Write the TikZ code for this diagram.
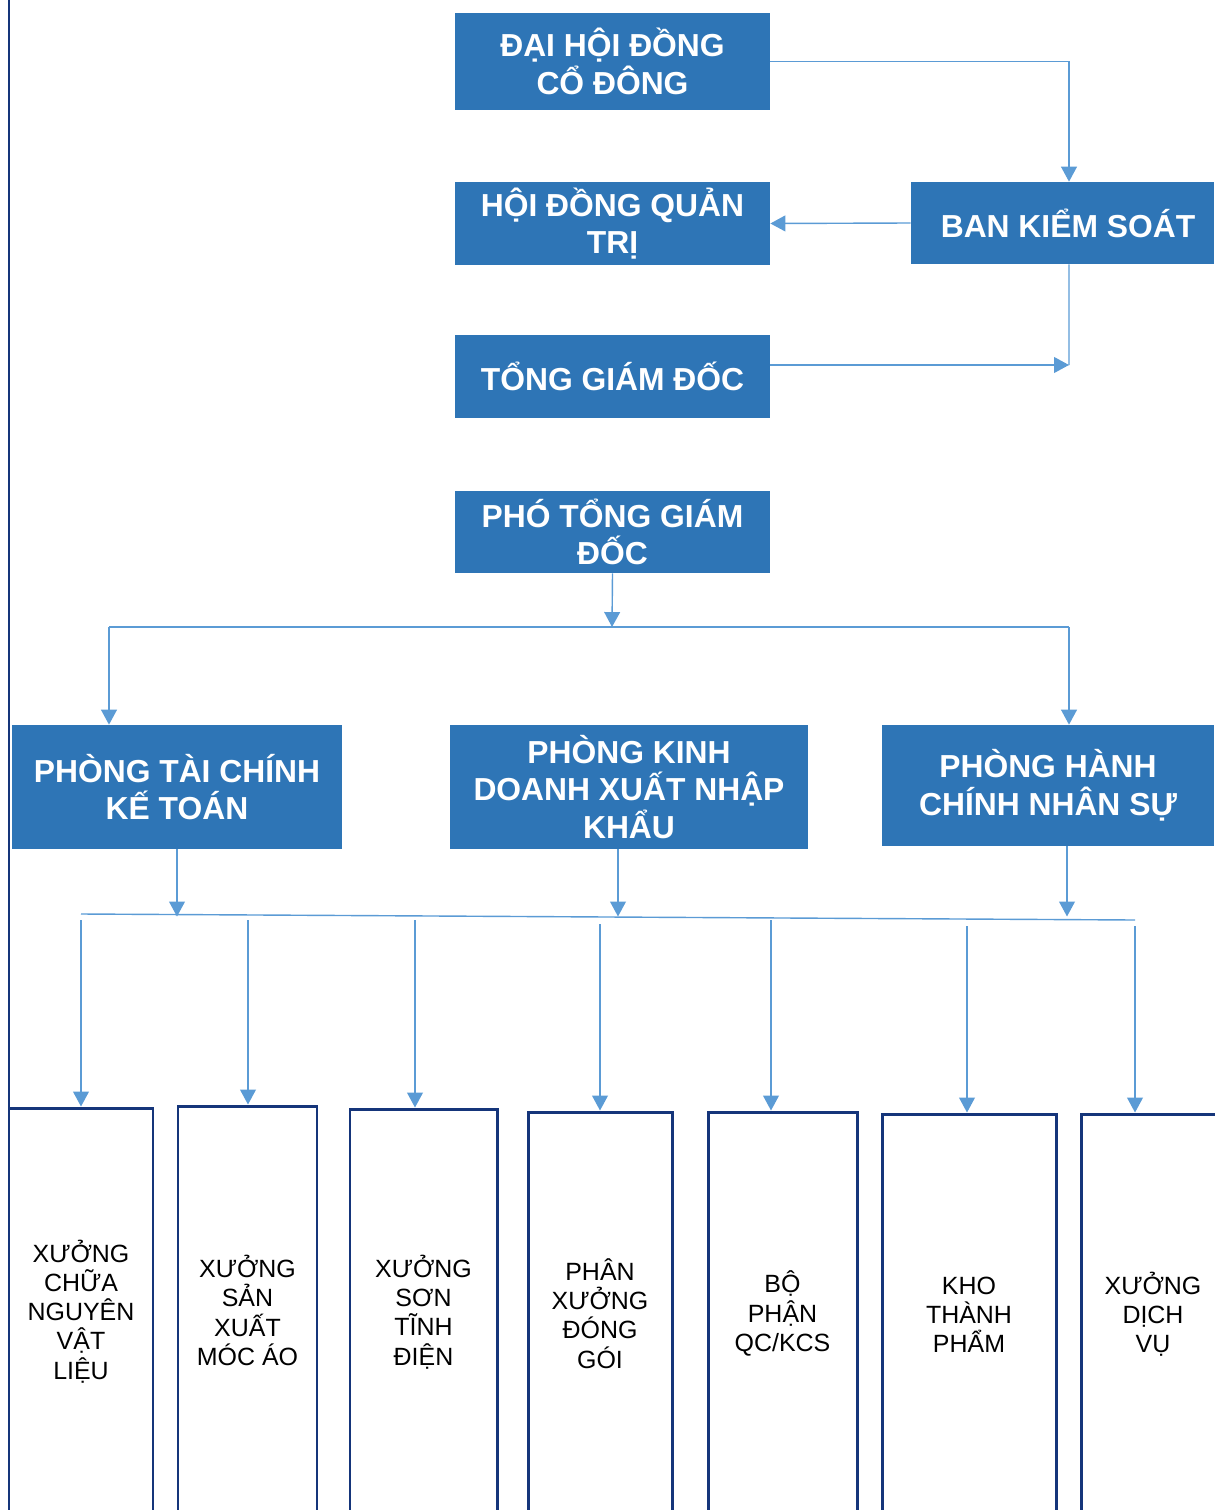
\documentclass[tikz,border=0pt]{standalone}
\usepackage{fontspec}
\setmainfont{Liberation Sans}
\usepackage{tikz}
\usetikzlibrary{arrows.meta, positioning, calc}

\definecolor{boxblue}{HTML}{2E75B6}
\definecolor{linkblue}{HTML}{5B9BD5}
\definecolor{edgenavy}{HTML}{15357A}

\begin{document}
\begin{tikzpicture}[
  mgmt/.style={rectangle, fill=boxblue, text=white, inner sep=0pt, align=center,
               font=\fontsize{18.1}{21.5}\selectfont\bfseries},
  unit/.style={rectangle, draw=edgenavy, line width=1.7pt, fill=white, inner sep=0pt,
               align=center, font=\fontsize{14.2}{16.6}\selectfont},
  flowarrow/.style={-{Triangle[length=8.5pt, width=9pt]}, line width=0.8pt, linkblue},
  flowline/.style={line width=0.8pt, linkblue}
]

\useasboundingbox (0,0) rectangle (24.28,-30.2);

% Left border line
\draw[edgenavy, line width=1.7pt] (0.18,0) -- (0.18,-30.2);

% Top management
\node[mgmt, minimum width=6.3cm, minimum height=1.94cm] (dhdcd) at (12.25,-1.23) {ĐẠI HỘI ĐỒNG\\CỔ ĐÔNG};
\node[mgmt, minimum width=6.3cm, minimum height=1.66cm] (hdqt) at (12.25,-4.47) {HỘI ĐỒNG QUẢN\\TRỊ};
\node[mgmt, minimum width=6.06cm, minimum height=1.64cm] (bks) at (21.25,-4.46) {\hspace{0.22cm}BAN KIỂM SOÁT};
\node[mgmt, minimum width=6.3cm, minimum height=1.66cm] (tgd) at (12.25,-7.53) {TỔNG GIÁM ĐỐC};
\node[mgmt, minimum width=6.3cm, minimum height=1.64cm] (ptgd) at (12.25,-10.64) {PHÓ TỔNG GIÁM\\ĐỐC};

% Departments
\node[mgmt, minimum width=6.6cm, minimum height=2.48cm] (ptckt) at (3.54,-15.74) {PHÒNG TÀI CHÍNH\\KẾ TOÁN};
\node[mgmt, minimum width=7.16cm, minimum height=2.48cm] (pkd) at (12.58,-15.74) {PHÒNG KINH\\DOANH XUẤT NHẬP\\KHẨU};
\node[mgmt, minimum width=6.64cm, minimum height=2.42cm] (phcns) at (20.96,-15.71) {PHÒNG HÀNH\\CHÍNH NHÂN SỰ};

% Workshops
\node[unit, minimum width=2.88cm, minimum height=8.14cm] (x1) at (1.62,-26.23) {XƯỞNG\\CHỮA\\NGUYÊN\\VẬT\\LIỆU};
\node[unit, minimum width=2.78cm, minimum height=8.18cm] (x2) at (4.95,-26.21) {XƯỞNG\\SẢN\\XUẤT\\MÓC ÁO};
\node[unit, minimum width=2.94cm, minimum height=8.12cm] (x3) at (8.47,-26.24) {XƯỞNG\\SƠN\\TĨNH\\ĐIỆN};
\node[unit, minimum width=2.88cm, minimum height=8.06cm] (x4) at (12.0,-26.27) {PHÂN\\XƯỞNG\\ĐÓNG\\GÓI};
\node[unit, minimum width=2.98cm, minimum height=8.06cm] (x5) at (15.65,-26.27) {BỘ\\PHẬN\\QC/KCS};
\node[unit, minimum width=3.48cm, minimum height=8.02cm] (x6) at (19.38,-26.29) {KHO\\THÀNH\\PHẨM};
\node[unit, minimum width=2.88cm, minimum height=8.02cm] (x7) at (23.06,-26.29) {XƯỞNG\\DỊCH\\VỤ};

% Upper links
\coordinate (ksjoin) at (21.38,-7.30);
\draw[flowarrow] (dhdcd.east) -| ([xshift=0.13cm]bks.north);
\draw[flowarrow] (bks.west) -- (hdqt.east);
\draw[flowline] ([xshift=0.13cm]bks.south) -- (ksjoin);
\draw[flowarrow] ([yshift=0.23cm]tgd.east) -- (ksjoin);

% Bus under PTGD
\coordinate (busl) at (2.18,-12.54);
\coordinate (busm) at (12.24,-12.54);
\coordinate (busr) at (21.38,-12.54);
\draw[flowarrow] (ptgd.south) -- (busm);
\draw[flowline] (busl) -- (busr);
\draw[flowarrow] (busl) -- (busl |- ptckt.north);
\draw[flowarrow] (busr) -- (busr |- phcns.north);

% Bus under departments
\coordinate (lowl) at (1.62,-18.28);
\coordinate (lowr) at (22.70,-18.40);
\coordinate (lowbus) at (0,-18.33);
\draw[flowline] (lowl) -- (lowr);
\draw[flowarrow] (ptckt.south) -- (ptckt.south |- lowbus);
\draw[flowarrow] ([xshift=-0.22cm]pkd.south) -- ([xshift=-0.22cm]pkd.south |- lowbus);
\draw[flowarrow] ([xshift=0.38cm]phcns.south) -- ([xshift=0.38cm]phcns.south |- lowbus);

% Links to workshops
\coordinate (t1) at (1.62,-18.40);
\coordinate (t2) at (4.96,-18.40);
\coordinate (t3) at (8.30,-18.40);
\coordinate (t4) at (12.0,-18.48);
\coordinate (t5) at (15.42,-18.40);
\coordinate (t6) at (19.34,-18.52);
\coordinate (t7) at (22.70,-18.52);
\draw[flowarrow] (t1) -- (t1 |- x1.north);
\draw[flowarrow] (t2) -- (t2 |- x2.north);
\draw[flowarrow] (t3) -- (t3 |- x3.north);
\draw[flowarrow] (t4) -- (t4 |- x4.north);
\draw[flowarrow] (t5) -- (t5 |- x5.north);
\draw[flowarrow] (t6) -- (t6 |- x6.north);
\draw[flowarrow] (t7) -- (t7 |- x7.north);

\end{tikzpicture}
\end{document}
